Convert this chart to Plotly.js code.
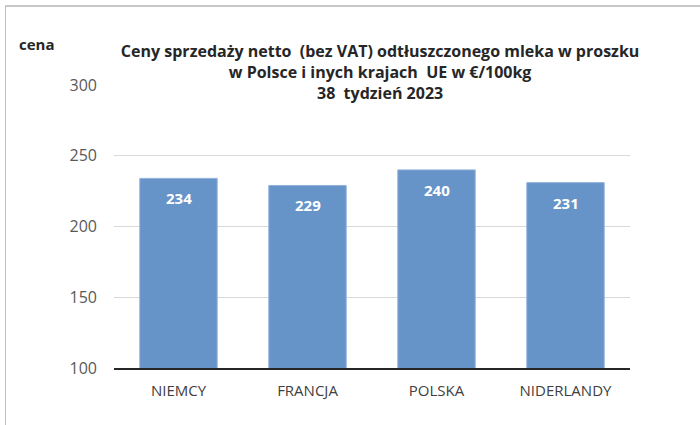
<!DOCTYPE html>
<html>
<head>
<meta charset="utf-8">
<script src="https://cdn.plot.ly/plotly-3.0.1.min.js"></script>
<style>
html,body{margin:0;padding:0;background:#fff;overflow:hidden;}
#chart{width:700px;height:425px;}
#frame{position:absolute;left:5px;top:5px;width:695px;height:420px;border-left:1px solid #bfbfbf;border-top:2px solid #c8c8c8;pointer-events:none;}
</style>
</head>
<body>
<div id="chart"></div>
<div id="frame"></div>
<script>
const categories = ["NIEMCY", "FRANCJA", "POLSKA", "NIDERLANDY"];
const prices = [234, 229, 240, 231];
const yTicks = [100, 150, 200, 250, 300];

const trace = {
  type: "bar",
  x: categories,
  y: prices,
  marker: {color: "#6694c8", line: {color: "#8fb0da", width: 1}},
  hoverinfo: "none"
};

const valueLabels = categories.map((c, i) => ({
  x: c, y: prices[i], xref: "x", yref: "y",
  text: "<b>" + prices[i] + "</b>",
  showarrow: false, xanchor: "center", yanchor: "middle", yshift: -20,
  font: {family: "Open Sans, sans-serif", size: 15, color: "#ffffff"}
}));

const layout = {
  width: 700, height: 425,
  margin: {l: 114, r: 70, t: 85, b: 57},
  paper_bgcolor: "#ffffff",
  plot_bgcolor: "#ffffff",
  showlegend: false,
  bargap: 0.4,
  font: {family: "Open Sans, sans-serif", color: "#595959"},
  title: {
    text: "<b>Ceny sprzedaży netto  (bez VAT) odtłuszczonego mleka w proszku<br>w Polsce i inych krajach  UE w €/100kg<br>38  tydzień 2023</b>",
    font: {family: "Open Sans, sans-serif", size: 16, color: "#262626"},
    x: 0.543, xref: "container", xanchor: "center",
    y: 1 - 57/425, yref: "container", yanchor: "middle"
  },
  xaxis: {
    type: "category",
    showgrid: false,
    showline: true, linecolor: "#262626", linewidth: 2,
    ticks: "", ticklabelstandoff: 8,
    tickfont: {size: 15, color: "#404040"},
    fixedrange: true
  },
  yaxis: {
    range: [100, 300],
    tickvals: yTicks,
    ticktext: yTicks.map(String),
    showgrid: true, gridcolor: "#d9d9d9", gridwidth: 1,
    zeroline: false, showline: false,
    ticks: "", ticklabelstandoff: 16,
    tickfont: {size: 16, color: "#595959"},
    fixedrange: true
  },
  annotations: [{
    text: "<b>cena</b>",
    xref: "paper", yref: "paper",
    x: -0.149, y: 1.145, xanchor: "center", yanchor: "middle",
    showarrow: false,
    font: {family: "Open Sans, sans-serif", size: 15, color: "#262626"}
  }].concat(valueLabels)
};

Plotly.newPlot("chart", [trace], layout, {displayModeBar: false, staticPlot: true});
</script>
</body>
</html>
